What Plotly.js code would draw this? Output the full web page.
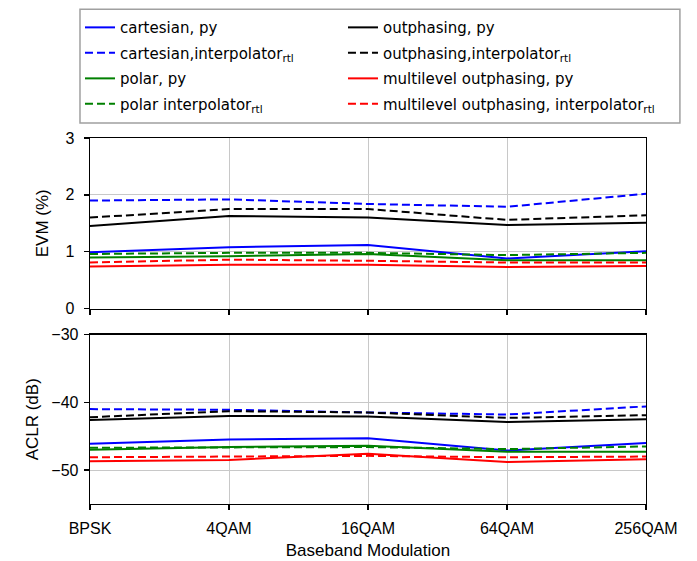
<!DOCTYPE html>
<html><head><meta charset="utf-8">
<script src="https://cdn.plot.ly/plotly-3.0.1.min.js"></script>
<style>body{margin:0;padding:0;background:#fff}</style>
</head><body>
<div id="chart" style="width:697px;height:561px"></div>
<script>
const categories = ["BPSK", "4QAM", "16QAM", "64QAM", "256QAM"];

const evmCartesianPy   = [0.99, 1.08, 1.12, 0.88, 1.01];
const evmCartesianRtl  = [1.90, 1.92, 1.84, 1.79, 2.02];
const evmOutphasingPy  = [1.45, 1.63, 1.60, 1.47, 1.51];
const evmOutphasingRtl = [1.60, 1.75, 1.75, 1.56, 1.64];
const evmPolarPy       = [0.90, 0.92, 0.96, 0.85, 0.85];
const evmPolarRtl      = [0.96, 0.98, 0.98, 0.94, 0.98];
const evmMultiPy       = [0.74, 0.77, 0.77, 0.73, 0.75];
const evmMultiRtl      = [0.81, 0.86, 0.84, 0.81, 0.81];

const aclrCartesianPy   = [-46.1, -45.5, -45.3, -47.1, -46.0];
const aclrCartesianRtl  = [-41.0, -41.1, -41.5, -41.8, -40.6];
const aclrOutphasingPy  = [-42.6, -42.0, -42.1, -42.9, -42.5];
const aclrOutphasingRtl = [-42.2, -41.3, -41.5, -42.3, -41.9];
const aclrPolarPy       = [-47.0, -46.6, -46.4, -47.3, -47.3];
const aclrPolarRtl      = [-46.7, -46.6, -46.6, -46.9, -46.5];
const aclrMultiPy       = [-48.7, -48.5, -47.6, -48.8, -48.4];
const aclrMultiRtl      = [-48.1, -48.0, -47.9, -48.1, -48.0];

const series = [
  {name: "cartesian, py", color: "#0000ff", dash: "solid", legend: "legend", evm: evmCartesianPy, aclr: aclrCartesianPy},
  {name: "cartesian,interpolator<sub>rtl</sub>", color: "#0000ff", dash: "8px,4px", legend: "legend", evm: evmCartesianRtl, aclr: aclrCartesianRtl},
  {name: "polar, py", color: "#008000", dash: "solid", legend: "legend", evm: evmPolarPy, aclr: aclrPolarPy},
  {name: "polar interpolator<sub>rtl</sub>", color: "#008000", dash: "8px,4px", legend: "legend", evm: evmPolarRtl, aclr: aclrPolarRtl},
  {name: "outphasing, py", color: "#000000", dash: "solid", legend: "legend2", evm: evmOutphasingPy, aclr: aclrOutphasingPy},
  {name: "outphasing,interpolator<sub>rtl</sub>", color: "#000000", dash: "8px,4px", legend: "legend2", evm: evmOutphasingRtl, aclr: aclrOutphasingRtl},
  {name: "multilevel outphasing, py", color: "#ff0000", dash: "solid", legend: "legend2", evm: evmMultiPy, aclr: aclrMultiPy},
  {name: "multilevel outphasing, interpolator<sub>rtl</sub>", color: "#ff0000", dash: "8px,4px", legend: "legend2", evm: evmMultiRtl, aclr: aclrMultiRtl}
];

const traces = [];
series.forEach((s, i) => {
  traces.push({x: categories, y: s.evm, xaxis: "x", yaxis: "y", mode: "lines", name: s.name,
    legend: s.legend, legendgroup: "g" + i, line: {color: s.color, dash: s.dash, width: 2}});
});
series.forEach((s, i) => {
  traces.push({x: categories, y: s.aclr, xaxis: "x2", yaxis: "y2", mode: "lines", name: s.name,
    legend: s.legend, legendgroup: "g" + i, showlegend: false, line: {color: s.color, dash: s.dash, width: 2}});
});

const tickFont = {family: "Liberation Sans, Arial, sans-serif", size: 16, color: "#000"};
const titleFont = {family: "Liberation Sans, Arial, sans-serif", size: 17, color: "#000"};
const legendFont = {family: "DejaVu Sans, sans-serif", size: 15, color: "#000"};

const axisCommon = {
  showline: true, linecolor: "#000", linewidth: 1.3, mirror: true,
  ticks: "outside", ticklen: 5, tickcolor: "#000", tickwidth: 1.3,
  showgrid: true, gridcolor: "#c8c8c8", gridwidth: 1, zeroline: false,
  tickfont: tickFont
};

const legendCommon = {
  orientation: "v", xanchor: "left", y: 1.343, yanchor: "top",
  borderwidth: 0, bgcolor: "rgba(0,0,0,0)", traceorder: "grouped",
  tracegroupgap: 3, font: legendFont
};

const layout = {
  width: 697, height: 561,
  margin: {l: 90, r: 51, t: 137, b: 57},
  paper_bgcolor: "#fff", plot_bgcolor: "#fff",
  font: tickFont,
  showlegend: true,
  legend: Object.assign({}, legendCommon, {x: -0.018}),
  legend2: Object.assign({}, legendCommon, {x: 0.455}),
  shapes: [{
    type: "rect", xref: "paper", yref: "paper",
    x0: -0.018, x1: 1.061, y0: 1.041, y1: 1.3515,
    line: {color: "#a0a0a0", width: 1.5}, fillcolor: "rgba(0,0,0,0)"
  }],
  xaxis: Object.assign({}, axisCommon, {
    type: "category", range: [0, 4], anchor: "y", domain: [0, 1],
    showticklabels: false
  }),
  yaxis: Object.assign({}, axisCommon, {
    range: [0, 3], dtick: 1, domain: [0.534, 1], anchor: "x",
    ticklabelstandoff: 6,
    title: {text: "EVM (%)", font: titleFont, standoff: 12}
  }),
  xaxis2: Object.assign({}, axisCommon, {
    type: "category", range: [0, 4], anchor: "y2", domain: [0, 1],
    ticklabelstandoff: 4,
    title: {text: "Baseband Modulation", font: titleFont, standoff: 8}
  }),
  yaxis2: Object.assign({}, axisCommon, {
    range: [-55, -30], tickvals: [-50, -40, -30], domain: [0, 0.463], anchor: "x2",
    ticklabelstandoff: 2,
    title: {text: "ACLR (dB)", font: titleFont, standoff: 8}
  })
};

Plotly.newPlot("chart", traces, layout, {displayModeBar: false, staticPlot: true});
</script>
</body></html>
